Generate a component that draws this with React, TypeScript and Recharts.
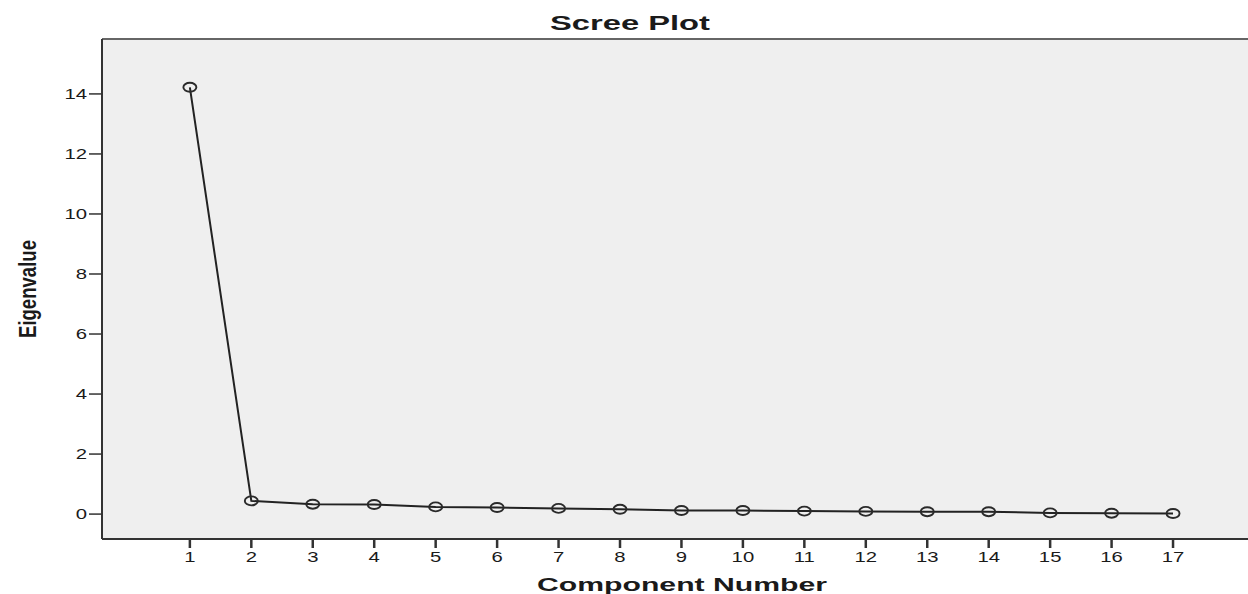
import React from "react";
import {
  LineChart,
  Line,
  XAxis,
  YAxis,
  CartesianGrid,
  ReferenceLine,
  Label,
} from "recharts";

// values
const components = [1, 2, 3, 4, 5, 6, 7, 8, 9, 10, 11, 12, 13, 14, 15, 16, 17];
const eigenvalues = [
  14.22, 0.44, 0.33, 0.32, 0.24, 0.22, 0.19, 0.16, 0.12, 0.12, 0.1, 0.09, 0.08,
  0.08, 0.04, 0.03, 0.02,
];
const yTicks = [0, 2, 4, 6, 8, 10, 12, 14];

const data = components.map((c, i) => ({ component: c, value: eigenvalues[i] }));

const TEXT = "#1a1a1a";
const FONT = "'Liberation Sans', Arial, sans-serif";
// the original image is stretched sideways, so text gets a horizontal scale
const STRETCH = 1.45;

function OpenDot(props: any) {
  const { cx, cy, index } = props;
  if (cx == null || cy == null) return null;
  return (
    <ellipse
      key={`dot-${index}`}
      cx={cx}
      cy={cy}
      rx={6.5}
      ry={4.5}
      fill="none"
      stroke="#2a2a2a"
      strokeWidth={1.9}
    />
  );
}

function XTick(props: any) {
  const { x, y, payload } = props;
  return (
    <g transform={`translate(${x},${y + 12}) scale(${STRETCH},1)`}>
      <text textAnchor="middle" fontFamily={FONT} fontSize={14} fill={TEXT}>
        {payload.value}
      </text>
    </g>
  );
}

function YTick(props: any) {
  const { x, y, payload } = props;
  return (
    <g transform={`translate(${x},${y + 5}) scale(${STRETCH},1)`}>
      <text textAnchor="end" fontFamily={FONT} fontSize={14} fill={TEXT}>
        {payload.value}
      </text>
    </g>
  );
}

export default function App() {
  return (
    <div style={{ position: "absolute", left: 0, top: 0, background: "#fff" }}>
      <LineChart
        width={1248}
        height={594}
        data={data}
        margin={{ top: 39, right: 0, bottom: 0, left: 42 }}
      >
        <CartesianGrid fill="#efefef" horizontal={false} vertical={false} />
        <text
          x={630}
          y={30}
          textAnchor="middle"
          fontFamily={FONT}
          fontWeight="bold"
          fontSize={20}
          textLength={160}
          lengthAdjust="spacingAndGlyphs"
          fill={TEXT}
        >
          Scree Plot
        </text>
        <XAxis
          type="number"
          dataKey="component"
          domain={[-0.43, 18.22]}
          ticks={components}
          allowDataOverflow
          axisLine={{ stroke: "#333", strokeWidth: 2 }}
          tickLine={{ stroke: "#333", strokeWidth: 2.5 }}
          tickSize={9}
          tick={<XTick />}
          height={55}
        >
          <Label
            content={() => (
              <text
                x={682}
                y={591}
                textAnchor="middle"
                fontFamily={FONT}
                fontWeight="bold"
                fontSize={19}
                textLength={290}
                lengthAdjust="spacingAndGlyphs"
                fill={TEXT}
              >
                Component Number
              </text>
            )}
          />
        </XAxis>
        <YAxis
          type="number"
          domain={[-0.83, 15.83]}
          ticks={yTicks}
          allowDataOverflow
          width={60}
          axisLine={{ stroke: "#333", strokeWidth: 2 }}
          tickLine={{ stroke: "#333", strokeWidth: 1.5 }}
          tickSize={13}
          tick={<YTick />}
        >
          <Label
            content={() => (
              <text
                x={36}
                y={289}
                transform="rotate(-90 36 289)"
                textAnchor="middle"
                fontFamily={FONT}
                fontWeight="bold"
                fontSize={23}
                textLength={98}
                lengthAdjust="spacingAndGlyphs"
                fill={TEXT}
              >
                Eigenvalue
              </text>
            )}
          />
        </YAxis>
        <ReferenceLine y={15.83} stroke="#666" strokeWidth={2} ifOverflow="visible" />
        <Line
          type="linear"
          dataKey="value"
          stroke="#222"
          strokeWidth={2}
          dot={<OpenDot />}
          activeDot={false}
          isAnimationActive={false}
        />
      </LineChart>
    </div>
  );
}
